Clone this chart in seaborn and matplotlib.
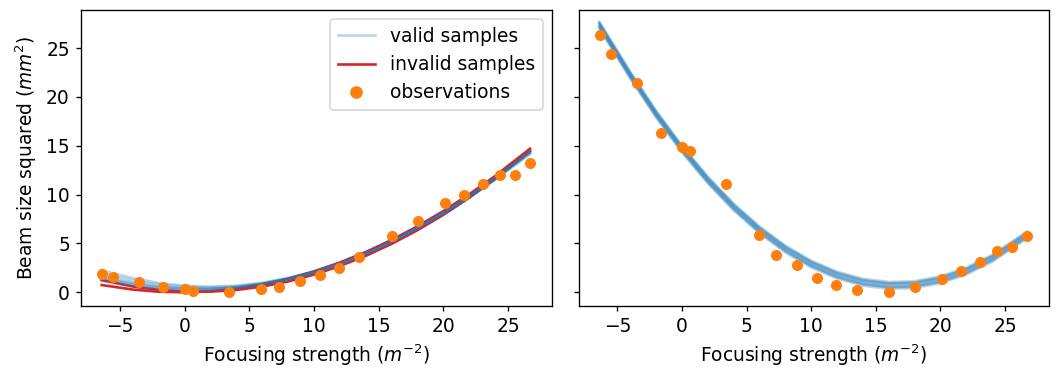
import numpy as np
import pandas as pd
import matplotlib
matplotlib.use("Agg")
import matplotlib.pyplot as plt
import seaborn as sns
from matplotlib.lines import Line2D

# ---------------- data ----------------
k_obs = [-6.35, -5.50, -3.49, -1.66, 0.00, 0.63, 3.41, 5.94, 7.30, 8.93, 10.45,
         11.92, 13.51, 16.04, 18.05, 20.13, 21.62, 23.09, 24.41, 25.57, 26.72]
obs_left = [1.87, 1.60, 1.05, 0.57, 0.30, 0.17, 0.00, 0.30, 0.57, 1.19, 1.73,
            2.48, 3.64, 5.76, 7.29, 9.10, 9.95, 11.04, 11.99, 11.99, 13.22]
obs_right = [26.31, 24.44, 21.47, 16.36, 14.89, 14.48, 11.07, 5.86, 3.85, 2.79, 1.49,
             0.75, 0.24, 0.03, 0.51, 1.39, 2.18, 3.07, 4.19, 4.66, 5.73]

k_grid = [-6.4, -4, -2, 0, 2, 4, 6, 8, 10, 12, 14, 16, 18, 20, 22, 24, 26.7]

# left panel: valid samples
valid_left_1 = [2.25, 1.45, 0.96, 0.68, 0.58, 0.68, 0.98, 1.47, 2.13, 2.95, 3.97, 5.17, 6.55, 8.04, 9.70, 11.52, 14.15]
valid_left_2 = [1.95, 1.22, 0.80, 0.56, 0.49, 0.61, 0.93, 1.43, 2.10, 2.93, 3.96, 5.18, 6.57, 8.08, 9.75, 11.58, 14.25]
valid_left_3 = [1.65, 0.98, 0.61, 0.41, 0.38, 0.53, 0.87, 1.38, 2.06, 2.90, 3.95, 5.18, 6.58, 8.10, 9.78, 11.62, 14.30]
valid_left_4 = [1.52, 0.89, 0.54, 0.36, 0.34, 0.50, 0.85, 1.36, 2.05, 2.90, 3.95, 5.18, 6.59, 8.11, 9.80, 11.64, 14.33]
valid_left_5 = [1.40, 0.80, 0.47, 0.31, 0.31, 0.48, 0.83, 1.35, 2.04, 2.89, 3.95, 5.19, 6.60, 8.13, 9.82, 11.67, 14.38]
valid_left_6 = [1.15, 0.62, 0.33, 0.22, 0.25, 0.44, 0.80, 1.33, 2.03, 2.89, 3.96, 5.21, 6.63, 8.17, 9.87, 11.73, 14.45]

# left panel: invalid samples
invalid_left_1 = [0.75, 0.28, 0.06, 0.00, 0.11, 0.37, 0.80, 1.39, 2.14, 3.05, 4.12, 5.36, 6.75, 8.31, 10.03, 11.90, 14.70]
invalid_left_2 = [1.26, 0.60, 0.25, 0.07, 0.07, 0.24, 0.59, 1.11, 1.81, 2.69, 3.73, 4.96, 6.36, 7.93, 9.68, 11.60, 14.48]

# right panel: valid samples
valid_right_1 = [27.70, 22.56, 18.58, 15.01, 11.84, 9.08, 6.73, 4.78, 3.24, 2.11, 1.38, 1.06, 1.14, 1.63, 2.53, 3.83, 6.23]
valid_right_2 = [27.58, 22.44, 18.46, 14.89, 11.72, 8.96, 6.61, 4.66, 3.12, 1.99, 1.26, 0.94, 1.02, 1.51, 2.41, 3.71, 6.11]
valid_right_3 = [27.52, 22.38, 18.40, 14.83, 11.66, 8.90, 6.55, 4.60, 3.06, 1.93, 1.20, 0.88, 0.96, 1.45, 2.35, 3.65, 6.05]
valid_right_4 = [27.45, 22.31, 18.33, 14.76, 11.59, 8.83, 6.48, 4.53, 2.99, 1.86, 1.13, 0.81, 0.89, 1.38, 2.28, 3.58, 5.98]
valid_right_5 = [27.28, 22.14, 18.16, 14.59, 11.42, 8.66, 6.31, 4.36, 2.82, 1.69, 0.96, 0.64, 0.72, 1.21, 2.11, 3.41, 5.81]
valid_right_6 = [27.20, 22.06, 18.08, 14.51, 11.34, 8.58, 6.23, 4.28, 2.74, 1.61, 0.88, 0.56, 0.64, 1.13, 2.03, 3.33, 5.73]
valid_right_7 = [27.13, 21.99, 18.01, 14.44, 11.27, 8.51, 6.16, 4.21, 2.67, 1.54, 0.81, 0.49, 0.57, 1.06, 1.96, 3.26, 5.66]
valid_right_8 = [27.00, 21.86, 17.88, 14.31, 11.14, 8.38, 6.03, 4.08, 2.54, 1.41, 0.68, 0.36, 0.44, 0.93, 1.83, 3.13, 5.53]

x_label = "Focusing strength ($m^{-2}$)"
y_label = "Beam size squared ($mm^2$)"
legend_labels = ["valid samples", "invalid samples", "observations"]


def long_frame(curves):
    rows = []
    for i, c in enumerate(curves):
        for k, v in zip(k_grid, c):
            rows.append({"sample": i, "k": k, "y": v})
    return pd.DataFrame(rows)


df_valid_left = long_frame([valid_left_1, valid_left_2, valid_left_3,
                            valid_left_4, valid_left_5, valid_left_6])
df_invalid_left = long_frame([invalid_left_1, invalid_left_2])
df_valid_right = long_frame([valid_right_1, valid_right_2, valid_right_3, valid_right_4,
                             valid_right_5, valid_right_6, valid_right_7, valid_right_8])
df_obs = pd.DataFrame({"k": k_obs, "left": obs_left, "right": obs_right})

# ---------------- figure ----------------
plt.rcParams["font.size"] = 11.2
W, H, DPI = 1056, 370, 120
fig = plt.figure(figsize=(W / DPI, H / DPI), dpi=DPI)
ax1 = fig.add_axes([81 / W, 1 - 305.7 / H, (552 - 81) / W, (305.7 - 10) / H])
ax2 = fig.add_axes([578.7 / W, 1 - 305.7 / H, (1049 - 578.7) / W, (305.7 - 10) / H], sharey=ax1)

blue, red, orange = "tab:blue", "tab:red", "tab:orange"
lw = 1.6

# left
sns.lineplot(data=df_invalid_left, x="k", y="y", units="sample", estimator=None,
             color=red, lw=lw, legend=False, sort=False, ax=ax1)
sns.lineplot(data=df_valid_left, x="k", y="y", units="sample", estimator=None,
             color=blue, alpha=0.3, lw=lw, legend=False, sort=False, ax=ax1)
sns.scatterplot(data=df_obs, x="k", y="left", color=orange, s=44, linewidth=0,
                zorder=5, legend=False, ax=ax1)

# right
sns.lineplot(data=df_valid_right, x="k", y="y", units="sample", estimator=None,
             color=blue, alpha=0.3, lw=lw, legend=False, sort=False, ax=ax2)
sns.scatterplot(data=df_obs, x="k", y="right", color=orange, s=44, linewidth=0,
                zorder=5, legend=False, ax=ax2)

for ax in (ax1, ax2):
    ax.set_xlim(-8.0, 28.4)
    ax.set_xticks([-5, 0, 5, 10, 15, 20, 25])
    ax.set_xlabel(x_label)
    ax.tick_params(length=3.2)
ax1.set_ylim(-1.37, 28.9)
ax1.set_yticks([0, 5, 10, 15, 20, 25])
ax1.set_ylabel(y_label)
ax2.set_ylabel("")
ax2.tick_params(labelleft=False)

handles = [
    Line2D([], [], color=blue, alpha=0.3, lw=lw),
    Line2D([], [], color=red, lw=lw),
    Line2D([], [], color=orange, marker="o", ls="", ms=6.6),
]
ax1.legend(handles, legend_labels, loc="upper right")

fig.savefig("out.png", dpi=DPI)
